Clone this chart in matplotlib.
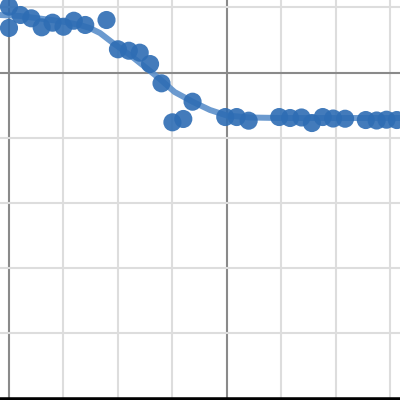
import matplotlib
matplotlib.use("Agg")
import matplotlib.pyplot as plt

# scatter data
x_pts = [-4.0, -4.0, -3.79, -3.59, -3.4, -3.2, -3.0, -2.81, -2.6, -2.21, -2.0, -1.8,
         -1.6, -1.41, -1.2, -1.0, -0.8, -0.63, -0.03, 0.18, 0.4, 0.96, 1.16, 1.37,
         1.56, 1.76, 1.95, 2.17, 2.55, 2.75, 2.93, 3.12]
y_pts = [1.01, 0.683, 0.882, 0.831, 0.693, 0.764, 0.702, 0.794, 0.729, 0.805, 0.356, 0.334,
         0.304, 0.13, -0.166, -0.764, -0.713, -0.448, -0.683, -0.683, -0.739, -0.683, -0.698, -0.69,
         -0.775, -0.683, -0.706, -0.709, -0.729, -0.736, -0.724, -0.729]

# fitted curve
x_fit = [-4.17, -3.80, -3.44, -3.07, -2.70, -2.52, -2.33, -2.09, -1.78, -1.41, -1.23,
         -0.96, -0.62, -0.31, 0.0, 0.42, 0.97, 3.18]
y_fit = [0.882, 0.867, 0.828, 0.79, 0.729, 0.683, 0.606, 0.452, 0.268, 0.023, -0.100,
         -0.299, -0.452, -0.575, -0.660, -0.690, -0.698, -0.698]

x_ticks = [-4, -3, -2, -1, 0, 1, 2, 3]
y_ticks = [1, 0, -1, -2, -3, -4, -5]

fig = plt.figure(figsize=(4, 4), dpi=100)
ax = fig.add_axes([0, 0, 1, 1])
ax.set_xlim(-4.165, 3.178)
ax.set_ylim(-5.023, 1.112)

for xv in x_ticks:
    dark = xv in (-4, 0)
    ax.axvline(xv, color='#8a8a8a' if dark else '#dddddd', lw=1.5, zorder=1)
for yv in y_ticks:
    dark = yv == 0
    ax.axhline(yv, color='#8a8a8a' if dark else '#dddddd', lw=1.5, zorder=1)

ax.plot(x_fit, y_fit, color='#5b8fca', lw=4.3, alpha=0.9, solid_capstyle='butt', zorder=2)
ax.scatter(x_pts, y_pts, s=170, color='#2e6db4', alpha=0.9, edgecolors='none', zorder=3)

for s in ['top', 'left', 'right']:
    ax.spines[s].set_visible(False)
ax.spines['bottom'].set_color('black')
ax.spines['bottom'].set_linewidth(4)
ax.set_xticks([])
ax.set_yticks([])

fig.savefig('out.png', dpi=100)
